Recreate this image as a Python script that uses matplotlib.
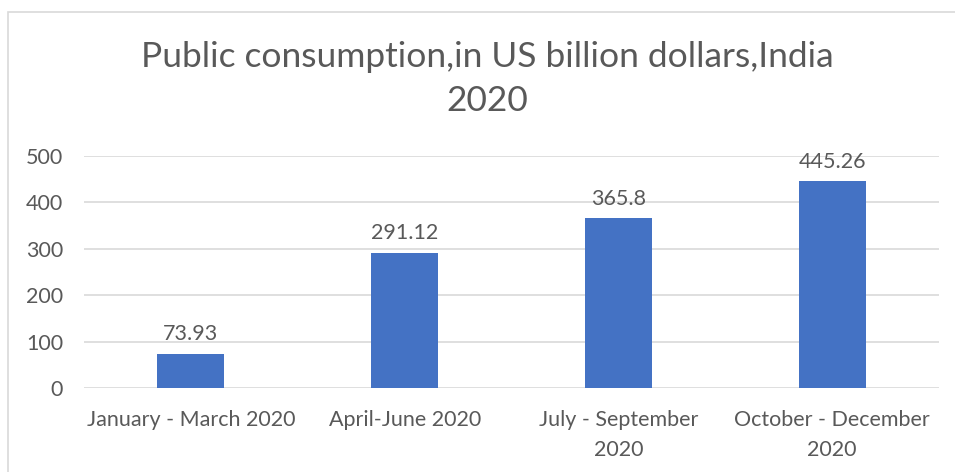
import matplotlib
matplotlib.use('Agg')
import matplotlib.pyplot as plt
from matplotlib.patches import Rectangle

categories = ["January - March 2020", "April-June 2020", "July - September\n2020", "October - December\n2020"]
values = [73.93, 291.12, 365.8, 445.26]
value_labels = ["73.93", "291.12", "365.8", "445.26"]
yticks = [0, 100, 200, 300, 400, 500]

text_color = "#595959"
bar_color = "#4472C4"
grid_color = "#d9d9d9"

plt.rcParams['font.family'] = ['Lato', 'DejaVu Sans']

W, H = 955, 472
fig = plt.figure(figsize=(W / 100, H / 100), dpi=100)

# chart border like the Excel chart frame
fig.patches.append(Rectangle((8 / W, -0.1), 1.0, 1.1 - 12 / H, transform=fig.transFigure,
                             fill=False, edgecolor=grid_color, linewidth=1.2))

ax = fig.add_axes([84 / W, 1 - 388 / H, (939 - 84) / W, (388 - 156) / H])
x = range(len(categories))
ax.bar(x, values, width=0.313, color=bar_color, zorder=3)
ax.set_xlim(-0.5, len(categories) - 0.5)
ax.set_ylim(0, 500)
ax.set_yticks(yticks)
ax.set_yticklabels([str(t) for t in yticks])
ax.set_xticks(list(x))
ax.set_xticklabels(categories, linespacing=1.6)
ax.yaxis.grid(True, color=grid_color, linewidth=1.2, zorder=0)
for s in ax.spines.values():
    s.set_visible(False)
ax.tick_params(axis='both', length=0, labelsize=15.5, colors=text_color)
ax.tick_params(axis='y', pad=15)
ax.tick_params(axis='x', pad=16)

for xi, v, lab in zip(x, values, value_labels):
    ax.annotate(lab, (xi, v), xytext=(0, 7), textcoords='offset points',
                ha='center', va='bottom', fontsize=15.5, color=text_color)

title_font = dict(ha='center', va='center', fontsize=25.5, color=text_color)
fig.text(487 / W, 1 - 57 / H, "Public consumption,in US billion dollars,India", **title_font)
fig.text(487 / W, 1 - 101 / H, "2020", **title_font)

fig.savefig("out.png", dpi=100)
